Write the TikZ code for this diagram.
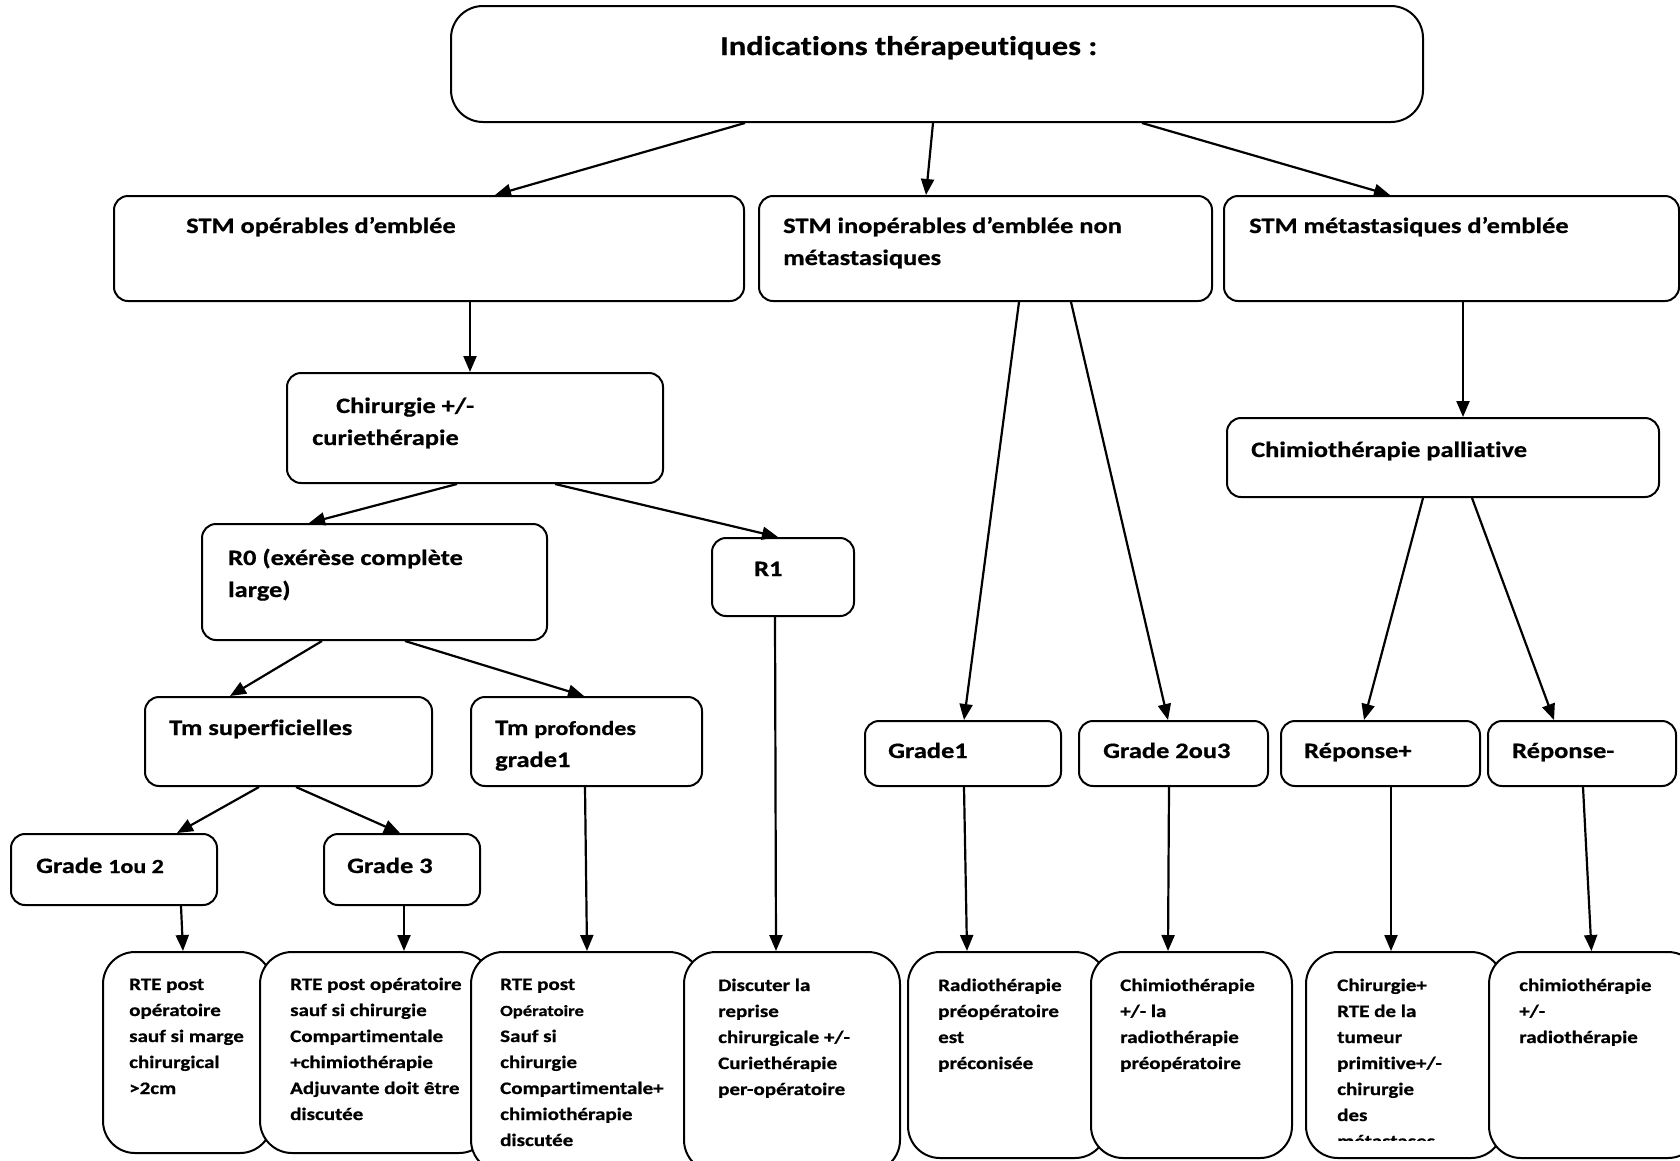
\documentclass[tikz,border=0pt]{standalone}
\usepackage{fontspec}
\setmainfont{Carlito}[FakeStretch=1.2, Ligatures=NoCommon, BoldFeatures={FakeBold=0.7}]
\usetikzlibrary{arrows.meta}
\newcommand\mlines[1]{\parbox[t]{400pt}{\raggedright #1}}
\newcommand\bx[6]{\node[#6, minimum width={(#4-#2)*1pt}, minimum height={(#5-#3)*1pt}] (#1) at ({(#2+#4)/2},{(#3+#5)/2}) {};}
\begin{document}
\begin{tikzpicture}[x=1pt,y=-1pt,
  box/.style={draw, line width=2pt, fill=white, rounded corners=14pt, inner sep=0pt},
  bigbox/.style={box, rounded corners=32pt},
  arr/.style={draw, line width=2.2pt, -{Triangle[length=16pt,width=13pt]}},
  ttl/.style={anchor=base west, inner sep=0pt, font=\fontsize{27}{34}\selectfont\bfseries},
  T/.style={anchor=base west, inner sep=0pt, font=\fontsize{22}{32}\selectfont\bfseries},
  S/.style={anchor=base west, inner sep=0pt, font=\fontsize{17.5}{26}\selectfont\bfseries}]
\useasboundingbox (0,0) rectangle (1680,1160);
\clip (0,0) rectangle (1680,1160);
\fill[white] (0,0) rectangle (1680,1160);
% boxes
\bx{top}{451}{6}{1423}{122}{bigbox}
\bx{opr}{114}{196}{744}{301}{box}
\bx{inop}{759}{196}{1212}{301}{box}
\bx{meta}{1224}{196}{1679}{301}{box}
\bx{chir}{287}{373}{663}{483}{box}
\bx{r0}{202}{524}{547}{640}{box}
\bx{r1}{712}{538}{854}{616}{box}
\bx{tmsup}{145}{697}{432}{786}{box}
\bx{tmprof}{471}{697}{702}{786}{box}
\bx{g12}{11}{834}{217}{905}{box}
\bx{g3}{324}{834}{480}{905}{box}
\bx{cpal}{1227}{418}{1659}{497}{box}
\bx{g1}{865}{721}{1061}{786}{box}
\bx{g23}{1079}{721}{1268}{786}{box}
\bx{rp}{1281}{721}{1480}{786}{box}
\bx{rm}{1488}{721}{1676}{786}{box}
\bx{b1}{103}{952}{272}{1153}{bigbox}
\bx{b2}{260}{952}{491}{1153}{bigbox}
\bx{b3}{471}{952}{701}{1172}{bigbox}
\bx{b4}{684}{952}{900}{1172}{bigbox}
\bx{b5}{908}{952}{1107}{1158}{bigbox}
\bx{b6}{1091}{952}{1292}{1158}{bigbox}
\bx{b7}{1306}{952}{1503}{1158}{bigbox}
\bx{b8}{1489}{952}{1700}{1158}{bigbox}
% texts
\node[ttl] (ttop) at (720,55) {Indications thérapeutiques :};
\node[T] (topr) at (186,233) {STM opérables d’emblée};
\node[T] (tinop) at (783,233) {\mlines{STM inopérables d’emblée non\\métastasiques}};
\node[T] (tmeta) at (1249,233) {STM métastasiques d’emblée};
\node[T] (tchir) at (312,413) {\mlines{\hspace*{24pt}Chirurgie +/-\\curiethérapie}};
\node[T] (tr0) at (228,565) {\mlines{R0 (exérèse complète\\large)}};
\node[T] (tr1) at (754,576) {R1};
\node[T] (ttmsup) at (169,735) {Tm superficielles};
\node[T] (ttmprof) at (495,735) {\mlines{Tm {\fontsize{20}{32}\selectfont profondes}\\grade1}};
\node[T] (tg12) at (36,873) {Grade {\fontsize{20}{32}\selectfont 1ou 2}};
\node[T] (tg3) at (347,873) {Grade 3};
\node[T] (tcpal) at (1251,457) {Chimiothérapie palliative};
\node[T] (tg1) at (888,758) {Grade1};
\node[T] (tg23) at (1103,758) {Grade 2ou3};
\node[T] (trp) at (1304,758) {Réponse+};
\node[T] (trm) at (1512,758) {Réponse-};
\node[S] (tb1) at (129,990) {\mlines{RTE post\\opératoire\\sauf si marge\\chirurgical\\>2cm}};
\node[S] (tb2) at (290,990) {\mlines{RTE post opératoire\\sauf si chirurgie\\Compartimentale\\+chimiothérapie\\Adjuvante doit être\\discutée}};
\node[S] (tb3) at (500,990) {\mlines{RTE post\\{\fontsize{15.5}{26}\selectfont Opératoire}\\Sauf si\\chirurgie\\Compartimentale+\\chimiothérapie\\discutée}};
\node[S] (tb4) at (718,991) {\mlines{Discuter la\\reprise\\chirurgicale +/-\\Curiethérapie\\per-opératoire}};
\node[S] (tb5) at (938,991) {\mlines{Radiothérapie\\préopératoire\\est\\préconisée}};
\node[S] (tb6) at (1120,991) {\mlines{Chimiothérapie\\+/- la\\radiothérapie\\préopératoire}};
\begin{scope}
\clip (1300,960) rectangle (1500,1140);
\node[S] (tb7) at (1337,991) {\mlines{Chirurgie+\\RTE de la\\tumeur\\primitive+/-\\chirurgie\\des\\métastases}};
\end{scope}
\node[S] (tb8) at (1519,991) {\mlines{chimiothérapie\\+/-\\radiothérapie}};
% connectors
\draw[arr] ([xshift=-192pt]top.south) -- ([xshift=66pt]opr.north);
\draw[arr] ([xshift=-4pt]top.south) -- ([xshift=-59.5pt]inop.north);
\draw[arr] ([xshift=205pt]top.south) -- ([xshift=-61.5pt]meta.north);
\draw[arr] ([xshift=41pt]opr.south) -- ([xshift=-5pt]chir.north);
\draw[arr] ([xshift=-18pt]chir.south) -- ([xshift=-65.5pt]r0.north);
\draw[arr] ([xshift=80pt]chir.south) -- ([xshift=-5pt]r1.north);
\draw[arr] ([xshift=-52.5pt]r0.south) -- ([xshift=-58.5pt]tmsup.north);
\draw[arr] ([xshift=30.5pt]r0.south) -- ([xshift=-2.5pt]tmprof.north);
\draw[arr] ([xshift=-29.5pt]tmsup.south) -- ([xshift=63pt]g12.north);
\draw[arr] ([xshift=7.5pt]tmsup.south) -- ([xshift=-2pt]g3.north);
\draw[arr] ([xshift=67pt]g12.south) -- ([xshift=-4.5pt]b1.north);
\draw[arr] ([xshift=2pt]g3.south) -- ([xshift=28.5pt]b2.north);
\draw[arr] ([xshift=-1.5pt]tmprof.south) -- ([xshift=1pt]b3.north);
\draw[arr] ([xshift=-8pt]r1.south) -- ([xshift=-16pt]b4.north);
\draw[arr] ([xshift=33.5pt]inop.south) -- ([xshift=1pt]g1.north);
\draw[arr] ([xshift=85.5pt]inop.south) -- ([xshift=-5.5pt]g23.north);
\draw[arr] ([xshift=11.5pt]meta.south) -- ([xshift=20pt]cpal.north);
\draw[arr] ([xshift=-20pt]cpal.south) -- ([xshift=-16.5pt]rp.north);
\draw[arr] ([xshift=29pt]cpal.south) -- ([xshift=-28pt]rm.north);
\draw[arr] ([xshift=1pt]g1.south) -- ([xshift=-40.5pt]b5.north);
\draw[arr] ([xshift=-4.5pt]g23.south) -- ([xshift=-23.5pt]b6.north);
\draw[arr] ([xshift=10.5pt]rp.south) -- ([xshift=-13.5pt]b7.north);
\draw[arr] ([xshift=1pt]rm.south) -- ([xshift=-3pt]b8.north);
\end{tikzpicture}
\end{document}
